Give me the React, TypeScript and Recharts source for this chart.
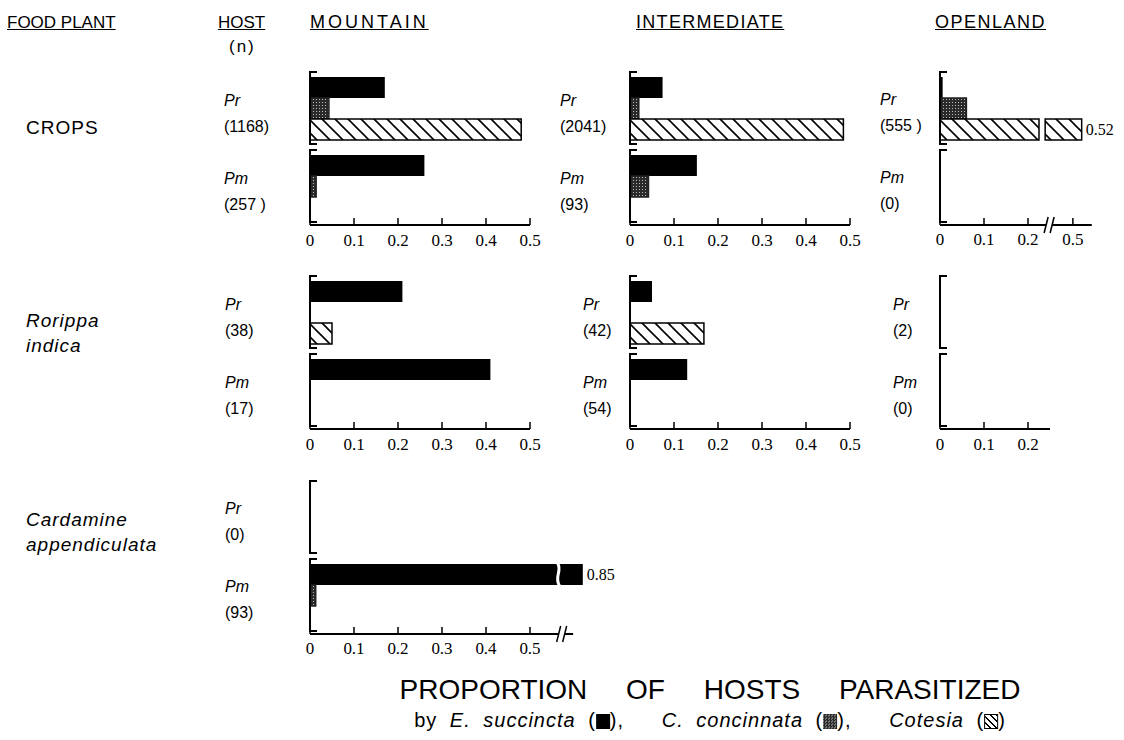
import React from 'react';
import { BarChart, Bar, XAxis, YAxis } from 'recharts';

// hosts in each panel, top to bottom
const hosts = ['Pr', 'Pm'];
const fullTicks = [0, 0.1, 0.2, 0.3, 0.4, 0.5];
const openCropTicks = [0, 0.1, 0.2, 0.5];
const shortTicks = [0, 0.1, 0.2];

// sample sizes, [Pr, Pm]
const cropsMountainN = ['(1168)', '(257 )'];
const cropsInterN = ['(2041)', '(93)'];
const cropsOpenN = ['(555 )', '(0)'];
const rorippaMountainN = ['(38)', '(17)'];
const rorippaInterN = ['(42)', '(54)'];
const rorippaOpenN = ['(2)', '(0)'];
const cardamineMountainN = ['(0)', '(93)'];

// proportion parasitized, [Pr, Pm]: E. succincta (es), C. concinnata (cc), Cotesia (cot)
const cropsMountainEs = [0.17, 0.26];
const cropsMountainCc = [0.043, 0.014];
const cropsMountainCot = [0.48, 0];
const cropsInterEs = [0.074, 0.152];
const cropsInterCc = [0.02, 0.042];
const cropsInterCot = [0.485, 0];
const cropsOpenEs = [0.006, 0];
const cropsOpenCc = [0.06, 0];
const cropsOpenCot = [0.52, 0];
const rorippaMountainEs = [0.21, 0.41];
const rorippaMountainCc = [0, 0];
const rorippaMountainCot = [0.05, 0];
const rorippaInterEs = [0.05, 0.13];
const rorippaInterCc = [0, 0];
const rorippaInterCot = [0.168, 0];
const rorippaOpenEs = [0, 0];
const rorippaOpenCc = [0, 0];
const rorippaOpenCot = [0, 0];
const cardamineMountainEs = [0, 0.85];
const cardamineMountainCc = [0, 0.013];
const cardamineMountainCot = [0, 0];

const PX = 440; // pixels per unit of proportion
const LEFT = 100;
const TOP = 10;
const PLOT_H = 156;
const AXIS_H = 34;
const RIGHT = 50;
const ROW_TOPS = [69, 273, 478];
const SANS = '"Liberation Sans", Arial, Helvetica, sans-serif';
const SERIF = '"Liberation Serif", "Times New Roman", serif';

type Brk = { from: number; shift: number; gap: [number, number]; mark: number; wavy?: boolean };
type PanelCfg = {
  row: number; x0: number; labelX: number; n: string[];
  es: number[]; cc: number[]; cot: number[];
  max: number; ticks: number[]; axisEnd?: number; brk?: Brk;
};

const panels: PanelCfg[] = [
  { row: 0, x0: 310, labelX: 224, n: cropsMountainN, es: cropsMountainEs, cc: cropsMountainCc, cot: cropsMountainCot, max: 0.5, ticks: fullTicks },
  { row: 0, x0: 630, labelX: 560, n: cropsInterN, es: cropsInterEs, cc: cropsInterCc, cot: cropsInterCot, max: 0.5, ticks: fullTicks },
  {
    row: 0, x0: 940, labelX: 880, n: cropsOpenN, es: cropsOpenEs, cc: cropsOpenCc, cot: cropsOpenCot, max: 0.345, ticks: openCropTicks,
    brk: { from: 0.3, shift: 0.198, gap: [0.225, 0.239], mark: 0.248 },
  },
  { row: 1, x0: 310, labelX: 225, n: rorippaMountainN, es: rorippaMountainEs, cc: rorippaMountainCc, cot: rorippaMountainCot, max: 0.5, ticks: fullTicks },
  { row: 1, x0: 630, labelX: 583, n: rorippaInterN, es: rorippaInterEs, cc: rorippaInterCc, cot: rorippaInterCot, max: 0.5, ticks: fullTicks },
  { row: 1, x0: 940, labelX: 893, n: rorippaOpenN, es: rorippaOpenEs, cc: rorippaOpenCc, cot: rorippaOpenCot, max: 0.25, ticks: shortTicks },
  {
    row: 2, x0: 310, labelX: 225, n: cardamineMountainN, es: cardamineMountainEs, cc: cardamineMountainCc, cot: cardamineMountainCot,
    max: 0.62, axisEnd: 0.598, ticks: fullTicks,
    brk: { from: 0.6, shift: 0.23, gap: [0.562, 0.568], mark: 0.572, wavy: true },
  },
];

const disp = (v: number, brk?: Brk) => (brk && v > brk.from ? v - brk.shift : v);

const makeShape = (key: 'es' | 'cc' | 'cot', p: PanelCfg) => (props: any) => {
  const { x, y, width, height, payload } = props;
  const real = payload[key + 'Real'];
  if (!real || !(width > 0)) return <g />;
  const fill = key === 'es' ? '#000' : key === 'cc' ? 'url(#stipple)' : 'url(#hatch)';
  const stroke = key === 'cot' ? '#000' : key === 'cc' ? '#222' : 'none';
  const broken = p.brk && real > p.brk.from;
  if (!broken || !p.brk) {
    return <rect x={x} y={y} width={width} height={height} fill={fill} stroke={stroke} strokeWidth={1.5} />;
  }
  const ppu = width / (real - p.brk.shift);
  const g0 = x + p.brk.gap[0] * ppu;
  const g1 = x + p.brk.gap[1] * ppu;
  const label = (
    <text x={x + width + 4} y={y + height / 2} dominantBaseline="central" fontFamily={SERIF} fontSize={16}>
      {String(real)}
    </text>
  );
  if (p.brk.wavy) {
    const gx = (g0 + g1) / 2;
    return (
      <g>
        <rect x={x} y={y} width={width} height={height} fill={fill} />
        <path
          d={`M${gx - 1},${y - 1} C${gx + 4},${y + height * 0.35} ${gx - 5},${y + height * 0.6} ${gx + 1},${y + height + 1}`}
          fill="none" stroke="#fff" strokeWidth={3}
        />
        {label}
      </g>
    );
  }
  return (
    <g>
      <rect x={x} y={y} width={g0 - x} height={height} fill={fill} stroke={stroke} strokeWidth={1.5} />
      <rect x={g1} y={y} width={x + width - g1} height={height} fill={fill} stroke={stroke} strokeWidth={1.5} />
      {label}
    </g>
  );
};

const XTick = ({ x, payload, p }: any) => {
  const v = payload.value;
  const ay = TOP + PLOT_H;
  if (p.brk && Math.abs(v - p.brk.mark) < 1e-6) {
    return (
      <g>
        <rect x={x - 3} y={ay - 3} width={6} height={6} fill="#fff" />
        <line x1={x - 5} y1={ay + 8} x2={x - 1} y2={ay - 8} stroke="#000" strokeWidth={1.5} />
        <line x1={x + 1} y1={ay + 8} x2={x + 5} y2={ay - 8} stroke="#000" strokeWidth={1.5} />
      </g>
    );
  }
  const real = p.ticks.find((t: number) => Math.abs(disp(t, p.brk) - v) < 1e-6);
  return (
    <g>
      <line x1={x} x2={x} y1={ay} y2={ay - 7} stroke="#000" strokeWidth={1.5} />
      <text x={x} y={ay + 15} textAnchor="middle" dominantBaseline="central" fontFamily={SERIF} fontSize={17}>
        {real === 0 ? '0' : String(real)}
      </text>
    </g>
  );
};

const HostTick = ({ y, payload, p }: any) => {
  const i = hosts.indexOf(payload.value);
  const lx = p.labelX - p.x0 + LEFT;
  return (
    <g>
      <path d={`M${LEFT + 7},${y - 36} H${LEFT} V${y + 36} H${LEFT + 7}`} fill="none" stroke="#000" strokeWidth={2} />
      <text x={lx} y={y - 8} dominantBaseline="central" fontFamily={SANS} fontStyle="italic" fontSize={16}>
        {payload.value}
      </text>
      <text x={lx} y={y + 18} dominantBaseline="central" fontFamily={SANS} fontSize={16}>
        {p.n[i]}
      </text>
    </g>
  );
};

function Panel({ p }: { p: PanelCfg }) {
  const data = hosts.map((h, i) => ({
    host: h,
    es: disp(p.es[i], p.brk), esReal: p.es[i],
    cc: disp(p.cc[i], p.brk), ccReal: p.cc[i],
    cot: disp(p.cot[i], p.brk), cotReal: p.cot[i],
  }));
  const plotW = p.max * PX;
  const xTicks = p.ticks.map((t) => disp(t, p.brk)).concat(p.brk ? [p.brk.mark] : []);
  const axisLine: any = { stroke: '#000', strokeWidth: 2 };
  if (p.axisEnd) axisLine.strokeDasharray = `${p.axisEnd * PX} 1000`;
  return (
    <div style={{ position: 'absolute', left: p.x0 - LEFT, top: ROW_TOPS[p.row] - TOP }}>
      <BarChart
        layout="vertical"
        width={LEFT + plotW + RIGHT}
        height={TOP + PLOT_H + AXIS_H}
        data={data}
        margin={{ top: TOP, right: RIGHT, bottom: 0, left: 0 }}
        barSize={21}
        barGap={0}
        barCategoryGap={0}
      >
        <XAxis
          type="number"
          domain={[0, p.max]}
          ticks={xTicks}
          interval={0}
          height={AXIS_H}
          tickLine={false}
          axisLine={axisLine}
          tick={(props: any) => <XTick {...props} p={p} />}
        />
        <YAxis
          type="category"
          dataKey="host"
          width={LEFT}
          interval={0}
          axisLine={false}
          tickLine={false}
          tick={(props: any) => <HostTick {...props} p={p} />}
        />
        <Bar dataKey="es" isAnimationActive={false} shape={makeShape('es', p)} />
        <Bar dataKey="cc" isAnimationActive={false} shape={makeShape('cc', p)} />
        <Bar dataKey="cot" isAnimationActive={false} shape={makeShape('cot', p)} />
      </BarChart>
    </div>
  );
}

const Txt = ({ x, y, size = 17, children, style }: any) => (
  <div
    style={{
      position: 'absolute', left: x, top: y - size / 2, fontSize: size, lineHeight: `${size}px`,
      fontFamily: SANS, whiteSpace: 'pre', color: '#000', ...style,
    }}
  >
    {children}
  </div>
);

const swatch = (bg: string, extra: any = {}) => (
  <span
    style={{
      display: 'inline-block', width: 14, height: 15, verticalAlign: '-2px', background: bg, boxSizing: 'border-box', ...extra,
    }}
  />
);

export default function App() {
  const head = (ls: number) => ({ textDecoration: 'underline', letterSpacing: `${ls}px` });
  const rowLab = { letterSpacing: '1px' };
  const rowIt = { letterSpacing: '1px', fontStyle: 'italic' };
  return (
    <div style={{ position: 'absolute', left: 0, top: 0, width: 1124, height: 740, background: '#fff', overflow: 'hidden' }}>
      <svg width={0} height={0} style={{ position: 'absolute' }}>
        <defs>
          <pattern id="hatch" patternUnits="userSpaceOnUse" width={13} height={13}>
            <rect width={13} height={13} fill="#fff" />
            <path d="M-1,-1 L14,14 M-7,6 L7,20 M6,-7 L20,7" stroke="#000" strokeWidth={1.6} />
          </pattern>
          <pattern id="stipple" patternUnits="userSpaceOnUse" width={3} height={3}>
            <rect width={3} height={3} fill="#2a2a2a" />
            <rect x={1} y={1} width={1} height={1} fill="#bbb" />
          </pattern>
        </defs>
      </svg>

      <Txt x={7} y={22} style={head(0)}>FOOD PLANT</Txt>
      <Txt x={218} y={22} style={head(0)}>HOST</Txt>
      <Txt x={229} y={46} style={{ letterSpacing: '2px' }}>(n)</Txt>
      <Txt x={310} y={22} size={18} style={head(3)}>MOUNTAIN</Txt>
      <Txt x={636} y={22} size={18} style={head(1.3)}>INTERMEDIATE</Txt>
      <Txt x={935} y={22} size={18} style={head(1.5)}>OPENLAND</Txt>

      <Txt x={26} y={127} size={19} style={rowLab}>CROPS</Txt>
      <Txt x={26} y={320} size={19} style={rowIt}>Rorippa</Txt>
      <Txt x={26} y={345} size={19} style={rowIt}>indica</Txt>
      <Txt x={26} y={519} size={19} style={rowIt}>Cardamine</Txt>
      <Txt x={26} y={544} size={19} style={rowIt}>appendiculata</Txt>

      {panels.map((p, i) => (
        <Panel key={i} p={p} />
      ))}

      <div
        style={{
          position: 'absolute', left: 710, top: 676, transform: 'translateX(-50%)', fontFamily: SANS,
          fontSize: 28, lineHeight: '28px', whiteSpace: 'nowrap', wordSpacing: '31px',
        }}
      >
        PROPORTION OF HOSTS PARASITIZED
      </div>
      <div
        style={{
          position: 'absolute', left: 710, top: 710, transform: 'translateX(-50%)', fontFamily: SANS,
          fontSize: 20, lineHeight: '20px', whiteSpace: 'nowrap', letterSpacing: '1px', wordSpacing: '6px',
        }}
      >
        by <i>E. succincta</i> ({swatch('#000')}),&nbsp;&nbsp; <i>C. concinnata</i> ({swatch('repeating-conic-gradient(#222 0 25%, #777 0 50%) 0 0 / 3px 3px')}),&nbsp;&nbsp; <i>Cotesia</i> (
        {swatch('repeating-linear-gradient(45deg, #fff 0 3px, #000 3px 4.5px)', { border: '1.5px solid #000' })})
      </div>
    </div>
  );
}
